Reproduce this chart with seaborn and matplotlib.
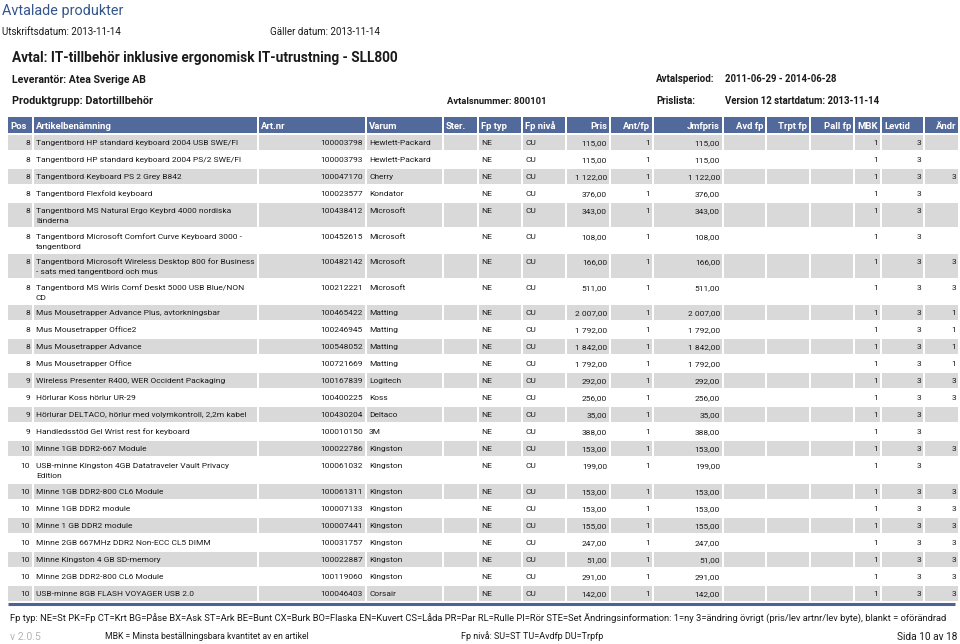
import matplotlib
matplotlib.use("Agg")
import matplotlib.pyplot as plt
from matplotlib.patches import Rectangle
import seaborn as sns

# ---- data ----
pos = [8, 8, 8, 8, 8, 8, 8, 8, 8, 8, 8, 8, 9, 9, 9, 9, 10, 10, 10, 10, 10, 10, 10, 10, 10]
names = [
    "Tangentbord HP standard keyboard 2004 USB SWE/FI",
    "Tangentbord HP standard keyboard 2004 PS/2 SWE/FI",
    "Tangentbord Keyboard PS 2 Grey B842",
    "Tangentbord Flexfold keyboard",
    "Tangentbord MS Natural Ergo Keybrd 4000 nordiska\nländerna",
    "Tangentbord Microsoft Comfort Curve Keyboard 3000 -\ntangentbord",
    "Tangentbord Microsoft Wireless Desktop 800 for Business\n- sats med tangentbord och mus",
    "Tangentbord MS Wirls Comf Deskt 5000 USB Blue/NON\nCD",
    "Mus Mousetrapper Advance Plus, avtorkningsbar",
    "Mus Mousetrapper Office2",
    "Mus Mousetrapper Advance",
    "Mus Mousetrapper Office",
    "Wireless Presenter R400, WER Occident Packaging",
    "Hörlurar Koss hörlur UR-29",
    "Hörlurar DELTACO, hörlur med volymkontroll, 2,2m kabel",
    "Handledsstöd Gel Wrist rest for keyboard",
    "Minne 1GB DDR2-667 Module",
    "USB-minne Kingston 4GB Datatraveler Vault Privacy\nEdition",
    "Minne 1GB DDR2-800 CL6 Module",
    "Minne 1GB DDR2 module",
    "Minne 1 GB DDR2 module",
    "Minne 2GB 667MHz DDR2 Non-ECC CL5 DIMM",
    "Minne Kingston 4 GB SD-memory",
    "Minne 2GB DDR2-800 CL6 Module",
    "USB-minne 8GB FLASH VOYAGER USB 2.0",
]
art_nr = [100003798, 100003793, 100047170, 100023577, 100438412, 100452615, 100482142,
          100212221, 100465422, 100246945, 100548052, 100721669, 100167839, 100400225,
          100430204, 100010150, 100022786, 100061032, 100061311, 100007133, 100007441,
          100031757, 100022887, 100119060, 100046403]
varum = ["Hewlett-Packard", "Hewlett-Packard", "Cherry", "Kondator", "Microsoft", "Microsoft",
         "Microsoft", "Microsoft", "Matting", "Matting", "Matting", "Matting", "Logitech",
         "Koss", "Deltaco", "3M", "Kingston", "Kingston", "Kingston", "Kingston", "Kingston",
         "Kingston", "Kingston", "Kingston", "Corsair"]
fp_typ = ["NE"] * 25
fp_niva = ["CU"] * 25
pris = [115, 115, 1122, 376, 343, 108, 166, 511, 2007, 1792, 1842, 1792, 292, 256, 35, 388,
        153, 199, 153, 153, 155, 247, 51, 291, 142]
ant_fp = [1] * 25
mbk = [1] * 25
levtid = [3] * 25
andr = ["", "", "3", "", "", "", "3", "3", "1", "1", "1", "1", "3", "3", "", "",
        "3", "", "3", "3", "3", "3", "3", "3", "3"]

headers = ["Pos", "Artikelbenämning", "Art.nr", "Varum", "Ster.", "Fp typ", "Fp nivå", "Pris",
           "Ant/fp", "Jmfpris", "Avd fp", "Trpt fp", "Pall fp", "MBK", "Levtid", "Ändr"]

# ---- style ----
sns.set_theme(style="white")
plt.rcParams['font.family'] = ['Roboto', 'Liberation Sans', 'DejaVu Sans']

HEAD_BG = "#52699b"
GREY = "#d9d9d9"
TXT = "#1a1a1a"
FS = 6.0


def kr(v):
    return f"{v:,.2f}".replace(",", " ").replace(".", ",")


# column edges (px), data alignment, header alignment
cols = [
    (8, 32, "right", "left"),
    (34, 257, "left", "left"),
    (259, 365, "right", "left"),
    (367, 442, "left", "left"),
    (444, 477, "left", "left"),
    (479, 521, "left", "left"),
    (523, 565, "left", "left"),
    (567, 609, "right", "right"),
    (611, 652, "right", "right"),
    (654, 722, "right", "right"),
    (724, 765, "right", "right"),
    (767, 809, "right", "right"),
    (811, 853, "right", "right"),
    (855, 880, "right", "right"),
    (882, 923, "right", "left"),
    (925, 958, "right", "right"),
]

fig = plt.figure(figsize=(9.6, 6.44), dpi=100)
ax = fig.add_axes([0, 0, 1, 1])
ax.set_xlim(0, 960)
ax.set_ylim(644, 0)
ax.axis("off")


def cell_text(x0, x1, y, s, align, **kw):
    # y is the baseline
    if align == "left":
        ax.text(x0 + 2, y, s, ha="left", va="baseline", **kw)
    else:
        ax.text(x1 - 2, y, s, ha="right", va="baseline", **kw)


def line_text(x, y, s, size, bold=False, color=TXT, ha="left"):
    ax.text(x, y, s, fontsize=size, fontweight="bold" if bold else "normal",
            color=color, va="baseline", ha=ha)


# ---- top texts ----
line_text(2, 15, "Avtalade produkter", 10.4, color="#34558b")
line_text(2, 35, "Utskriftsdatum: 2013-11-14", 7.0)
line_text(270, 35, "Gäller datum: 2013-11-14", 7.0)
line_text(12, 62, "Avtal: IT-tillbehör inklusive ergonomisk IT-utrustning - SLL800", 9.8, bold=True)
line_text(12, 83, "Leverantör: Atea Sverige AB", 7.6, bold=True)
line_text(12, 104, "Produktgrupp: Datortillbehör", 7.8, bold=True)
line_text(447, 104, "Avtalsnummer: 800101", 6.75, bold=True)
line_text(656, 82, "Avtalsperiod:", 7.0, bold=True)
line_text(725, 82, "2011-06-29 - 2014-06-28", 6.85, bold=True)
line_text(656, 104, "Prislista:", 7.0, bold=True)
line_text(725, 104, "Version 12 startdatum: 2013-11-14", 6.9, bold=True)

# ---- header row ----
top = 117
for (x0, x1, _, ha), h in zip(cols, headers):
    ax.add_patch(Rectangle((x0, top), x1 - x0, 16, color=HEAD_BG, lw=0))
    cell_text(x0, x1, top + 11.5, h, ha, fontsize=6.8, fontweight="bold", color="white")

# ---- body rows ----
top = 134
for i in range(len(names)):
    nlines = names[i].count("\n") + 1
    h = 17 if nlines == 1 else 25.5
    if i % 2 == 0:
        for x0, x1, _, _ in cols:
            ax.add_patch(Rectangle((x0, top + 1), x1 - x0, h - 2, color=GREY, lw=0))
    y = top + 11.2
    vals = [str(pos[i]), None, str(art_nr[i]), varum[i], "", fp_typ[i], fp_niva[i],
            kr(pris[i]), str(ant_fp[i]), kr(pris[i] / ant_fp[i]), "", "", "",
            str(mbk[i]), str(levtid[i]), andr[i]]
    for (x0, x1, al, _), v in zip(cols, vals):
        if v is None:
            for k, line in enumerate(names[i].split("\n")):
                cell_text(x0, x1, y + k * 10, line, "left", fontsize=FS, color=TXT)
        elif v:
            cell_text(x0, x1, y, v, al, fontsize=FS, color=TXT)
    top += h

# ---- footer ----
ax.plot([8, 955], [603.5, 603.5], color="#4b6494", lw=2.2, solid_capstyle="butt")
line_text(10, 622, "Fp typ: NE=St PK=Fp CT=Krt BG=Påse BX=Ask ST=Ark BE=Bunt CX=Burk BO=Flaska "
          "EN=Kuvert CS=Låda PR=Par RL=Rulle PI=Rör STE=Set Ändringsinformation: 1=ny "
          "3=ändring övrigt (pris/lev artnr/lev byte), blankt = oförändrad", 6.75)
line_text(10, 640, "v 2.0.5", 7.6, color="#b5b5b5")
line_text(105, 639, "MBK = Minsta beställningsbara kvantitet av en artikel", 6.2)
line_text(461, 639, "Fp nivå: SU=ST TU=Avdfp DU=Trpfp", 6.5)
line_text(957, 640, "Sida 10 av 18", 7.3, ha="right")

fig.savefig("out.png", dpi=100)
